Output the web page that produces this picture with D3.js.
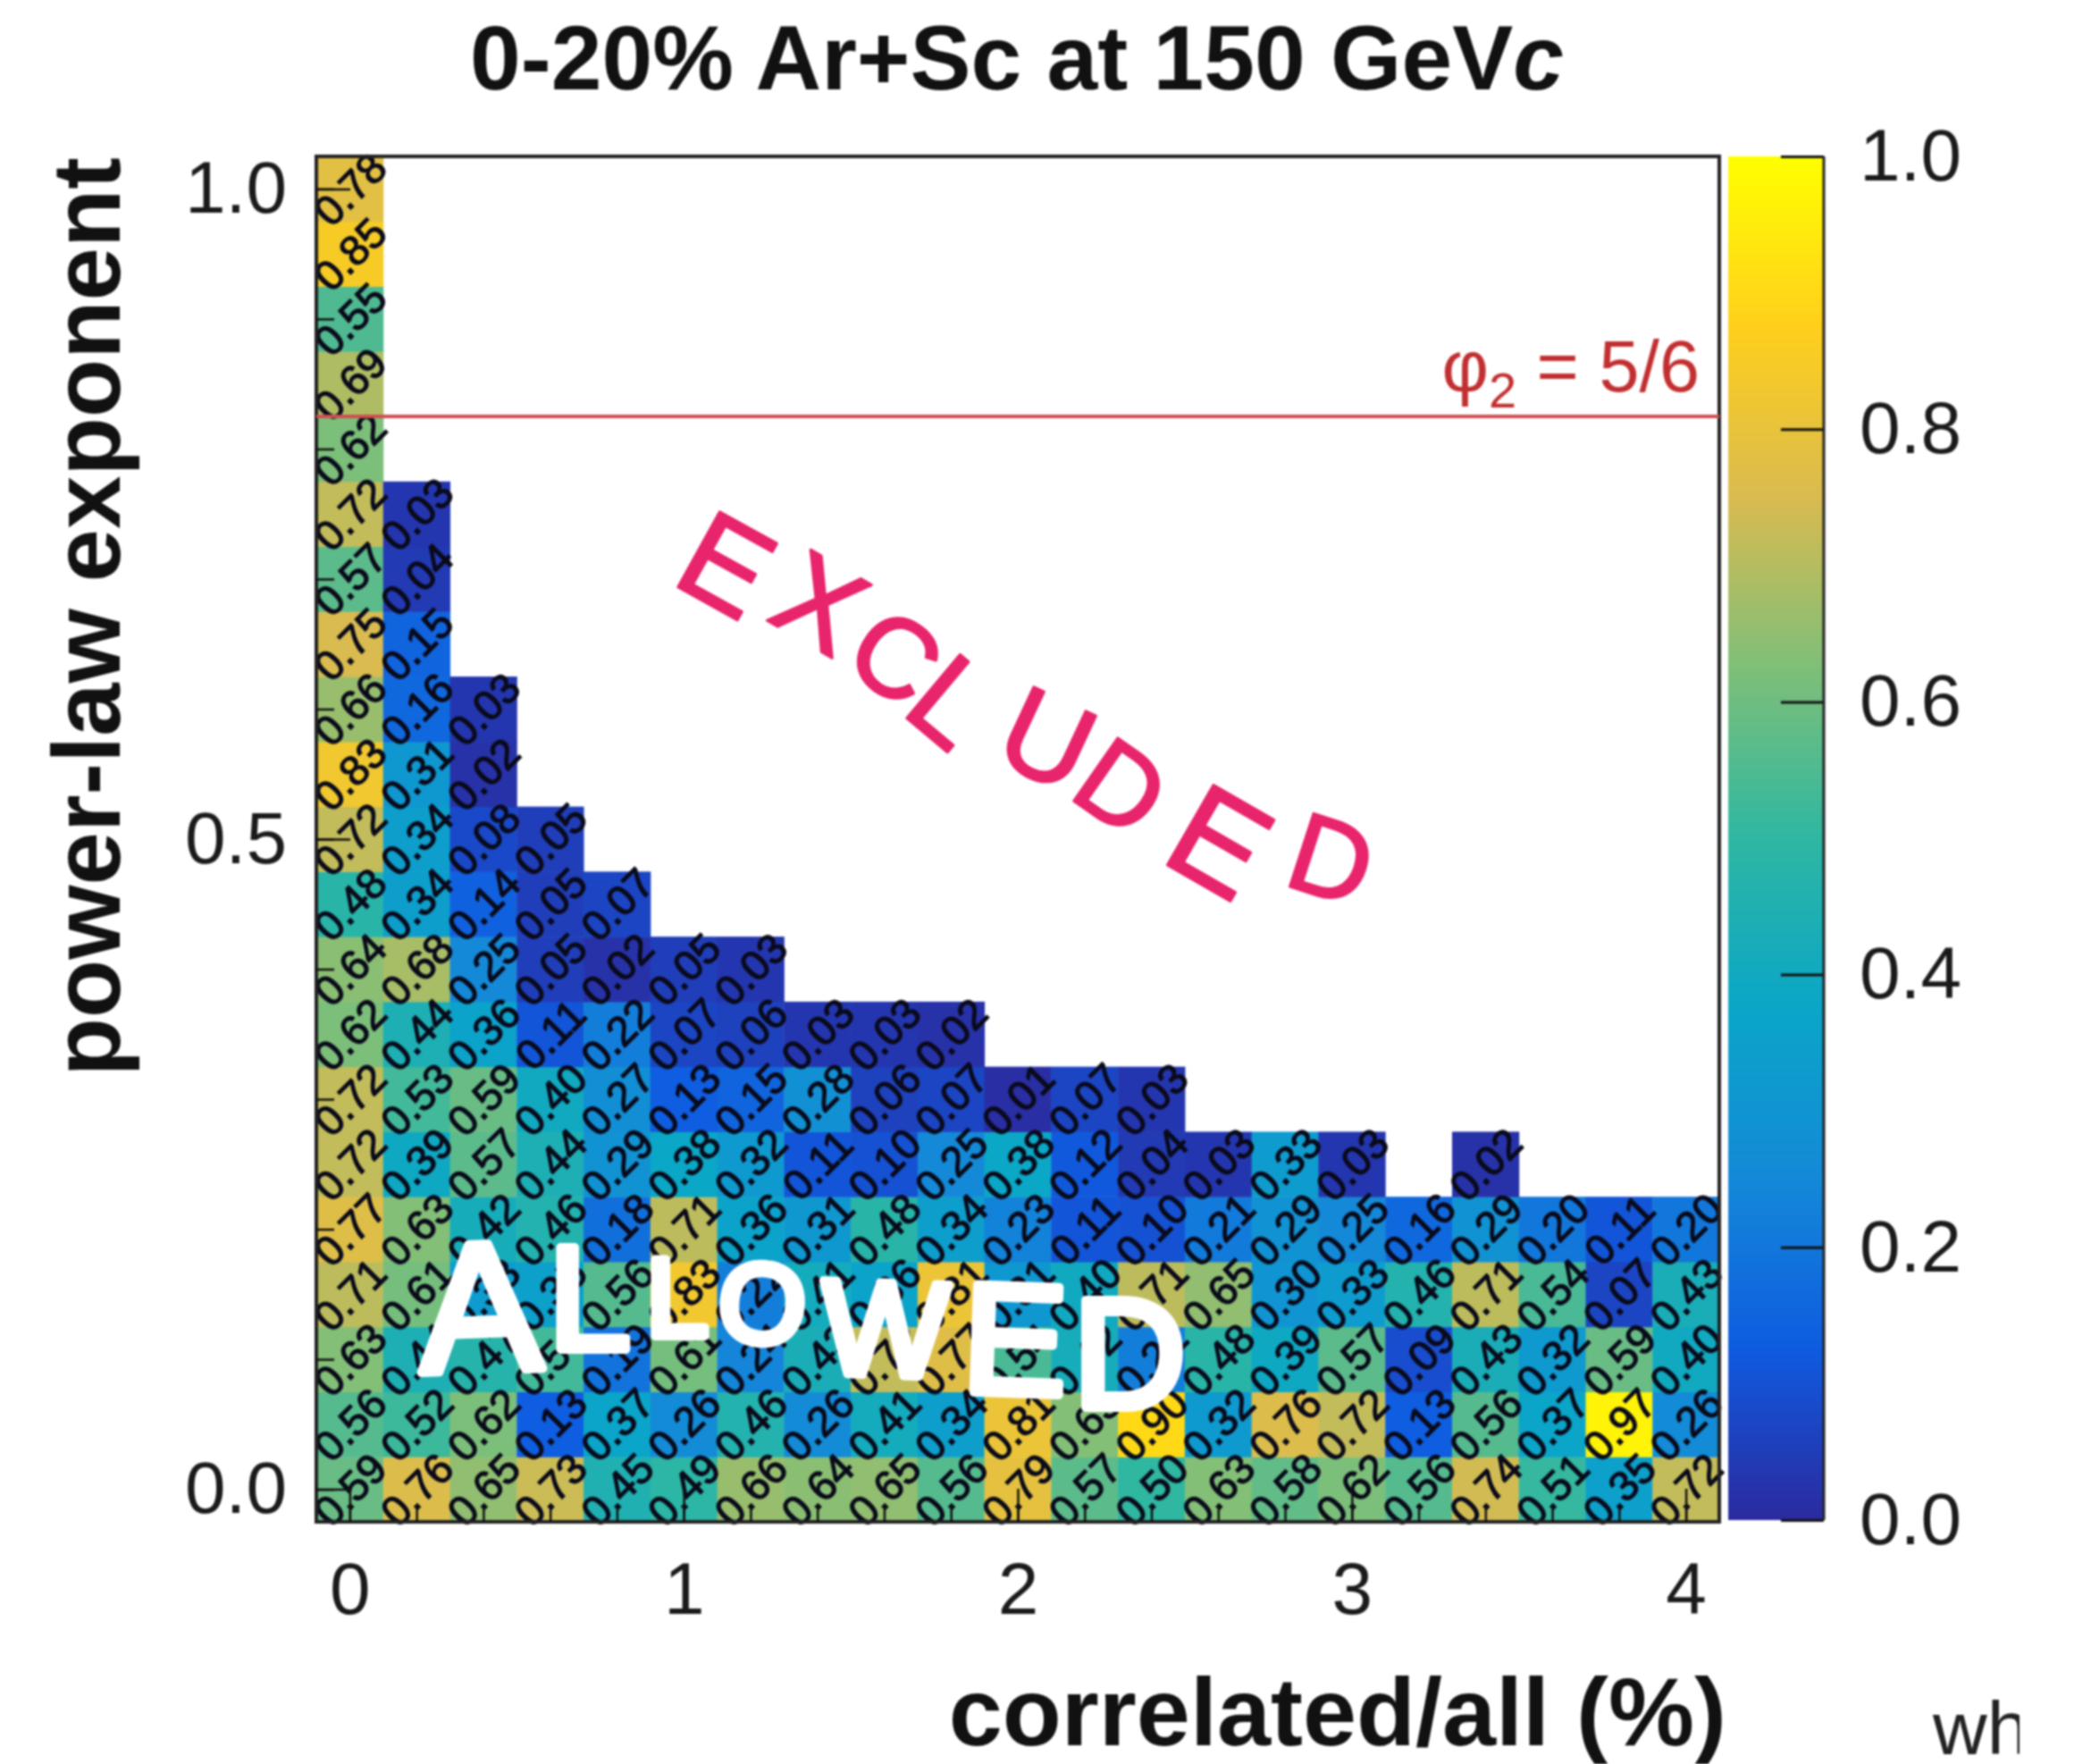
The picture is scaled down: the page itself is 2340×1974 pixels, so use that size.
<!DOCTYPE html>
<html>
<head>
<meta charset="utf-8">
<script src="https://cdn.jsdelivr.net/npm/d3@7"></script>
<style>
  html, body { margin: 0; background: #fff; }
  text { font-family: "Liberation Sans", sans-serif; }
  /* the reference is a soft, upscaled screenshot */
  svg { filter: blur(0.9px); display: block; }
</style>
</head>
<body>
<svg id="chart" width="2340" height="1974"></svg>
<script>
/* Scan of the allowed fraction. Every column lists its cells from the
   bottom row (exponent 0.0) upward. Columns stop where the picture goes white. */
const col0 = [0.59, 0.56, 0.63, 0.71, 0.77, 0.72, 0.72, 0.62, 0.64, 0.48, 0.72, 0.83, 0.66, 0.75, 0.57, 0.72, 0.62, 0.69, 0.55, 0.85, 0.78];
const col1 = [0.76, 0.52, 0.44, 0.61, 0.63, 0.39, 0.53, 0.44, 0.68, 0.34, 0.34, 0.31, 0.16, 0.15, 0.04, 0.03];
const col2 = [0.65, 0.62, 0.47, 0.33, 0.42, 0.57, 0.59, 0.36, 0.25, 0.14, 0.08, 0.02, 0.03];
const col3 = [0.73, 0.13, 0.53, 0.35, 0.46, 0.44, 0.40, 0.11, 0.05, 0.05, 0.05];
const col4 = [0.45, 0.37, 0.19, 0.56, 0.18, 0.29, 0.27, 0.22, 0.02, 0.07];
const col5 = [0.49, 0.26, 0.61, 0.83, 0.71, 0.38, 0.13, 0.07, 0.05];
const col6 = [0.66, 0.46, 0.24, 0.22, 0.36, 0.32, 0.15, 0.06, 0.03];
const col7 = [0.64, 0.26, 0.43, 0.41, 0.31, 0.11, 0.28, 0.03];
const col8 = [0.65, 0.41, 0.72, 0.36, 0.48, 0.10, 0.06, 0.03];
const col9 = [0.56, 0.34, 0.77, 0.81, 0.34, 0.25, 0.07, 0.02];
const col10 = [0.79, 0.81, 0.54, 0.31, 0.23, 0.38, 0.01];
const col11 = [0.57, 0.63, 0.42, 0.40, 0.11, 0.12, 0.07];
const col12 = [0.50, 0.90, 0.22, 0.71, 0.10, 0.04, 0.03];
const col13 = [0.63, 0.32, 0.48, 0.65, 0.21, 0.03];
const col14 = [0.58, 0.76, 0.39, 0.30, 0.29, 0.33];
const col15 = [0.62, 0.72, 0.57, 0.33, 0.25, 0.03];
const col16 = [0.56, 0.13, 0.09, 0.46, 0.16];
const col17 = [0.74, 0.56, 0.43, 0.71, 0.29, 0.02];
const col18 = [0.51, 0.37, 0.32, 0.54, 0.20];
const col19 = [0.35, 0.97, 0.59, 0.07, 0.11];
const col20 = [0.72, 0.26, 0.40, 0.43, 0.20];
const columns = [col0, col1, col2, col3, col4, col5, col6, col7, col8, col9, col10,
                 col11, col12, col13, col14, col15, col16, col17, col18, col19, col20];

const binX = 0.2, binY = 0.05;
const xMajorTicks = [0, 1, 2, 3, 4];
const xMinorTicks = [0, 0.2, 0.4, 0.6, 0.8, 1, 1.2, 1.4, 1.6, 1.8, 2, 2.2, 2.4, 2.6, 2.8, 3, 3.2, 3.4, 3.6, 3.8, 4];
const yMajorTicks = [0, 0.5, 1];
const yMinorTicks = [0, 0.1, 0.2, 0.3, 0.4, 0.5, 0.6, 0.7, 0.8, 0.9, 1];
const barTicks = [0, 0.2, 0.4, 0.6, 0.8, 1];
const referenceLine = 0.825; // where the red line sits in the picture

const colorStops = [0, 0.125, 0.25, 0.375, 0.5, 0.625, 0.75, 0.875, 1];
const colorValues = ['#2b2a9f', '#0f5be0', '#1489d8', '#0aa6c8', '#2fb7a2', '#7fbf78', '#d9bb50', '#ffcf1c', '#ffff00'];

const plot = {left: 354, right: 1924, top: 175, bottom: 1703};
const bar = {left: 1934, right: 2041};

const svg = d3.select('#chart');

const x = d3.scaleLinear()
    .domain([-binX / 2, 4 + binX / 2])
    .range([plot.left, plot.right]);
const y = d3.scaleLinear()
    .domain([-binY / 2, 1 + binY / 2])
    .range([plot.bottom, plot.top]);
const barY = d3.scaleLinear().domain([0, 1]).range([plot.bottom - 2, plot.top]);
const color = d3.scaleLinear().domain(colorStops).range(colorValues);

/* flatten columns to cells */
const cells = [];
columns.forEach((col, i) => {
    col.forEach((value, j) => {
        cells.push({fx: i * binX, fy: j * binY, value: value});
    });
});

const cellW = x(binX) - x(0), cellH = y(0) - y(binY);

svg.append('g').selectAll('rect')
    .data(cells)
    .join('rect')
    .attr('x', d => x(d.fx) - cellW / 2)
    .attr('y', d => y(d.fy) - cellH / 2)
    .attr('width', cellW + 0.5)
    .attr('height', cellH + 0.5)
    .attr('fill', d => color(d.value));

svg.append('g').selectAll('text')
    .data(cells)
    .join('text')
    .attr('transform', d => `translate(${x(d.fx)},${y(d.fy)}) rotate(-45)`)
    .attr('text-anchor', 'middle')
    .attr('dy', '0.36em')
    .attr('font-size', 47)
    .attr('fill', '#0a0a1a')
    .attr('stroke', '#0a0a1a')
    .attr('stroke-width', 1.3)
    .text(d => d3.format('.2f')(d.value));

/* frame */
svg.append('rect')
    .attr('x', plot.left)
    .attr('y', plot.top)
    .attr('width', plot.right - plot.left)
    .attr('height', plot.bottom - plot.top)
    .attr('fill', 'none')
    .attr('stroke', '#222')
    .attr('stroke-width', 4);

/* axes, ticks point into the frame like in ROOT */
function styleAxis(g, width) {
    g.select('.domain').remove();
    g.selectAll('line').attr('stroke', '#111').attr('stroke-width', width);
    g.selectAll('text')
        .attr('font-size', 82)
        .attr('fill', '#1a1a1a')
        .attr('font-family', '"Liberation Sans", sans-serif');
}

svg.append('g')
    .attr('transform', `translate(0,${plot.bottom})`)
    .call(d3.axisBottom(x).tickValues(xMinorTicks).tickSize(-17).tickFormat(''))
    .call(g => styleAxis(g, 2.5));
svg.append('g')
    .attr('transform', `translate(0,${plot.bottom})`)
    .call(d3.axisBottom(x).tickValues(xMajorTicks).tickSize(-37).tickPadding(45).tickFormat(d3.format('d')))
    .call(g => styleAxis(g, 2.5));
svg.append('g')
    .attr('transform', `translate(${plot.left},0)`)
    .call(d3.axisLeft(y).tickValues(yMinorTicks).tickSize(-20).tickFormat(''))
    .call(g => styleAxis(g, 2.5));
svg.append('g')
    .attr('transform', `translate(${plot.left},0)`)
    .call(d3.axisLeft(y).tickValues(yMajorTicks).tickSize(-38).tickPadding(33).tickFormat(d3.format('.1f')))
    .call(g => styleAxis(g, 2.5));

/* colour bar */
const grad = svg.append('defs').append('linearGradient')
    .attr('id', 'barFill')
    .attr('x1', 0).attr('x2', 0)
    .attr('y1', 1).attr('y2', 0);
grad.selectAll('stop')
    .data(colorStops)
    .join('stop')
    .attr('offset', d => d)
    .attr('stop-color', d => color(d));

svg.append('rect')
    .attr('x', bar.left)
    .attr('y', barY(1))
    .attr('width', bar.right - bar.left)
    .attr('height', barY(0) - barY(1))
    .attr('fill', 'url(#barFill)');
svg.append('g')
    .attr('transform', `translate(${bar.right},0)`)
    .call(d3.axisRight(barY).tickValues(barTicks).tickSize(-48).tickPadding(40).tickFormat(d3.format('.1f')))
    .call(g => styleAxis(g, 3));
svg.append('line')
    .attr('x1', bar.right).attr('x2', bar.right)
    .attr('y1', barY(1)).attr('y2', barY(0))
    .attr('stroke', '#222')
    .attr('stroke-width', 3);

/* red line and label */
svg.append('line')
    .attr('x1', plot.left)
    .attr('x2', plot.right)
    .attr('y1', y(referenceLine))
    .attr('y2', y(referenceLine))
    .attr('stroke', '#cf4f50')
    .attr('stroke-width', 4);
const phi = svg.append('text')
    .attr('x', 1902)
    .attr('y', 438)
    .attr('text-anchor', 'end')
    .attr('font-size', 81)
    .attr('fill', '#c12f30');
phi.append('tspan').text('φ');
phi.append('tspan').attr('font-size', 56).attr('dy', 18).text('2');
phi.append('tspan').attr('dy', -18).text(' = 5/6');

/* titles */
const title = svg.append('text')
    .attr('x', 1138)
    .attr('y', 100)
    .attr('text-anchor', 'middle')
    .attr('font-size', 102)
    .attr('font-weight', 'bold')
    .attr('fill', '#111');
title.append('tspan').text('0-20% Ar+Sc at 150 GeV');
title.append('tspan').attr('font-style', 'italic').text('c');

svg.append('text')
    .attr('transform', 'translate(134,176) rotate(-90)')
    .attr('text-anchor', 'end')
    .attr('font-size', 107)
    .attr('font-weight', 'bold')
    .attr('fill', '#111')
    .text('power-law exponent');

svg.append('text')
    .attr('x', 1932)
    .attr('y', 1953)
    .attr('text-anchor', 'end')
    .attr('font-size', 108)
    .attr('font-weight', 'bold')
    .attr('fill', '#111')
    .text('correlated/all (%)');

/* cut off word at the bottom right corner of the screenshot */
svg.select('defs').append('clipPath')
    .attr('id', 'wordClip')
    .append('rect')
    .attr('x', 2150).attr('y', 1880)
    .attr('width', 110).attr('height', 94);
svg.append('text')
    .attr('x', 2163)
    .attr('y', 1963)
    .attr('clip-path', 'url(#wordClip)')
    .attr('font-size', 84)
    .attr('fill', '#222')
    .text('wh');

/* the handwritten notes: one text each, every glyph in its own tspan, sized and
   centred on the spot where the letter sits in the picture */
function handwritten(word, spots, fill, stroke) {
    const text = svg.append('text')
        .attr('fill', fill)
        .attr('stroke', fill)
        .attr('stroke-width', stroke)
        .attr('stroke-linejoin', 'round');
    const glyphs = text.selectAll('tspan')
        .data(spots)
        .join('tspan')
        .attr('font-size', s => s.size)
        .attr('x', 0)
        .attr('y', 0)
        .text((s, i) => word[i]);
    glyphs.each(function(s, i) {
        const a = s.angle * Math.PI / 180;
        const w = text.node().getSubStringLength(i, 1) / 2, h = s.size * 0.345;
        d3.select(this)
            .attr('x', s.x - w * Math.cos(a) - h * Math.sin(a))
            .attr('y', s.y - w * Math.sin(a) + h * Math.cos(a))
            .attr('rotate', s.angle);
    });
}

handwritten('EXCLUDED', [
    {x: 813, y: 632, angle: 29, size: 140}, {x: 918, y: 675, angle: 30, size: 135},
    {x: 1002, y: 735, angle: 35, size: 125}, {x: 1065, y: 785, angle: 40, size: 135},
    {x: 1172, y: 827, angle: 25, size: 135}, {x: 1255, y: 881, angle: 35, size: 125},
    {x: 1365, y: 942, angle: 30, size: 150}, {x: 1490, y: 962, angle: 18, size: 125}
], '#e8246c', 3);

handwritten('ALLOWED', [
    {x: 537, y: 1463, angle: -2, size: 205}, {x: 660, y: 1453, angle: 0, size: 165},
    {x: 758, y: 1452, angle: 0, size: 125}, {x: 853, y: 1459, angle: 6, size: 125},
    {x: 990, y: 1487, angle: 2, size: 150}, {x: 1136, y: 1499, angle: 2, size: 175},
    {x: 1264, y: 1515, angle: 0, size: 175}
], '#ffffff', 10);
</script>
</body>
</html>
